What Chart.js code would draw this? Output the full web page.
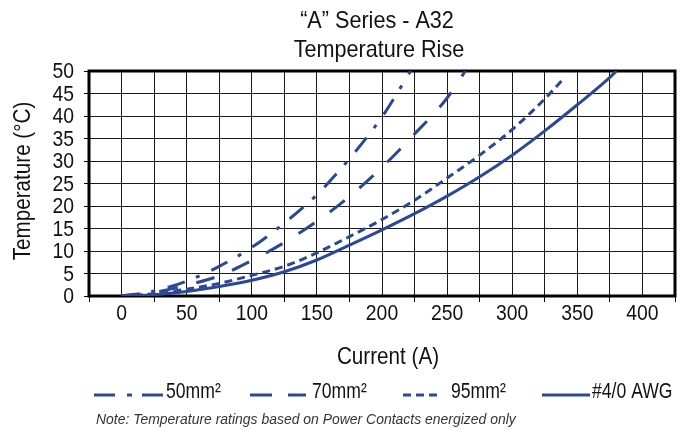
<!DOCTYPE html>
<html>
<head>
<meta charset="utf-8">
<script src="https://cdn.jsdelivr.net/npm/chart.js@4.4.1/dist/chart.umd.min.js"></script>
<style>
  html, body { margin: 0; padding: 0; background: #fff; }
  #wrap { width: 689px; height: 434px; }
</style>
</head>
<body>
<div id="wrap"><canvas id="riseChart" width="689" height="434"></canvas></div>
<script>
// values (current in A, temperature rise in °C)
var current50 = [0, 25, 50, 75, 100, 125, 150, 175, 200, 222];
var temp50    = [0, 1.1, 3.3, 6.6, 10.8, 16.2, 22.5, 30.5, 39.8, 50];

var current70 = [0, 25, 50, 75, 100, 125, 150, 175, 200, 225, 250, 264];
var temp70    = [0, 0.8, 2.4, 4.5, 7.9, 11.9, 16.6, 22.1, 28.6, 36.0, 44.0, 50];

var current95 = [0, 25, 50, 75, 100, 125, 150, 175, 200, 225, 250, 275, 300, 325, 340];
var temp95    = [0, 0.5, 1.5, 2.8, 4.6, 6.6, 9.6, 13.2, 17.0, 21.3, 26.2, 31.3, 37.0, 43.8, 48.5];

var currentAwg = [0, 25, 50, 75, 100, 125, 150, 175, 200, 225, 250, 275, 300, 325, 350, 375, 380];
var tempAwg    = [0, 0.3, 1.0, 2.1, 3.5, 5.4, 8.0, 11.3, 14.7, 18.3, 22.2, 26.5, 31.3, 36.7, 42.5, 48.6, 50];

var seriesNames = ['50mm\u00b2', '70mm\u00b2', '95mm\u00b2', '#4/0 AWG'];
var titleLines = ['\u201cA\u201d Series - A32', 'Temperature Rise'];
var xTitle = 'Current (A)';
var yTitle = 'Temperature (\u00b0C)';
var noteText = 'Note: Temperature ratings based on Power Contacts energized only';

var FONT = "'Liberation Sans', Arial, sans-serif";
var BLUE = '#2b4898';

function pairs(xs, ys){
    return xs.map(function(x, i){ return {x: x, y: ys[i]}; });
}

function lineSet(label, xs, ys, dash){
    return {
        label: label,
        data: pairs(xs, ys),
        borderColor: BLUE,
        borderWidth: 3,
        borderDash: dash,
        pointRadius: 0,
        fill: false,
        cubicInterpolationMode: 'monotone'
    };
}

// narrow text: Liberation Sans squeezed sideways
function narrowText(ctx, text, x, y, size, align, style, squeeze){
    ctx.save();
    ctx.translate(x, y);
    ctx.scale(squeeze || 0.86, 1);
    ctx.font = (style ? style + ' ' : '') + size + 'px ' + FONT;
    ctx.textAlign = align;
    ctx.textBaseline = 'middle';
    ctx.fillText(text, 0, 0);
    ctx.restore();
}

// thick frame around the plot
var framePlugin = {
    id: 'frame',
    beforeDatasetsDraw: function(chart){
        var a = chart.chartArea, ctx = chart.ctx;
        ctx.save();
        ctx.strokeStyle = '#000';
        ctx.lineWidth = 3;
        ctx.strokeRect(a.left, a.top, a.right - a.left, a.bottom - a.top);
        ctx.restore();
    }
};

// tick labels, titles, legend and note
var textPlugin = {
    id: 'texts',
    afterDraw: function(chart){
        var ctx = chart.ctx;
        var xs = chart.scales.x, ys = chart.scales.y;
        ctx.save();
        ctx.fillStyle = '#111';

        xs.ticks.forEach(function(t){
            if (t.value % 50 === 0) {
                narrowText(ctx, String(t.value), xs.getPixelForValue(t.value), 314, 22, 'center', '', 0.88);
            }
        });
        ys.ticks.forEach(function(t){
            narrowText(ctx, String(t.value), 74, ys.getPixelForValue(t.value) + 1, 22, 'right', '', 0.88);
        });

        narrowText(ctx, titleLines[0], 377, 21, 24, 'center', '', 0.9);
        narrowText(ctx, titleLines[1], 379, 50, 24, 'center', '', 0.9);
        narrowText(ctx, xTitle, 388, 357, 24, 'center', '', 0.86);

        ctx.save();
        ctx.translate(23, 181);
        ctx.rotate(-Math.PI / 2);
        narrowText(ctx, yTitle, 0, 0, 24, 'center', '', 0.86);
        ctx.restore();

        // legend
        var items = [
            {x0: 94,  x1: 163, tx: 166, dash: [21, 12, 5, 10]},
            {x0: 250, x1: 306, tx: 312, dash: [22, 16]},
            {x0: 403, x1: 438, tx: 451, dash: [8, 5]},
            {x0: 542, x1: 590, tx: 592, dash: []}
        ];
        chart.data.datasets.forEach(function(ds, i){
            var it = items[i];
            ctx.save();
            ctx.strokeStyle = ds.borderColor;
            ctx.lineWidth = 3;
            ctx.setLineDash(it.dash);
            ctx.beginPath();
            ctx.moveTo(it.x0, 395);
            ctx.lineTo(it.x1, 395);
            ctx.stroke();
            ctx.restore();
            narrowText(ctx, ds.label, it.tx, 392, 22, 'left', '', 0.8);
        });

        ctx.fillStyle = '#333';
        narrowText(ctx, noteText, 96, 420, 15, 'left', 'italic', 0.93);
        ctx.restore();
    }
};

var ctx1 = document.getElementById('riseChart').getContext('2d');
var riseChart = new Chart(ctx1, {
    type: 'line',
    data: {
        datasets: [
            lineSet(seriesNames[0], current50, temp50, [18, 12, 4, 13]),
            lineSet(seriesNames[1], current70, temp70, [19, 19]),
            lineSet(seriesNames[2], current95, temp95, [8, 5]),
            lineSet(seriesNames[3], currentAwg, tempAwg, [])
        ]
    },
    options: {
        responsive: false,
        animation: false,
        layout: { padding: { top: 71, right: 14, left: 0, bottom: 0 } },
        plugins: {
            legend: { display: false },
            title: { display: false },
            tooltip: { enabled: false }
        },
        scales: {
            x: {
                type: 'linear',
                min: -25,
                max: 425,
                afterBuildTicks: function(s){
                    var t = [];
                    for (var v = -25; v <= 425; v += 25) t.push({value: v});
                    s.ticks = t;
                },
                afterFit: function(s){ s.height = 138; },
                ticks: { display: false, autoSkip: false },
                grid: {
                    color: '#1a1a1a',
                    lineWidth: 1,
                    tickLength: 6,
                    tickColor: function(c){
                        return (c.tick && c.tick.value % 50 !== 0) ? '#000' : 'rgba(0,0,0,0)';
                    }
                },
                border: { display: false }
            },
            y: {
                min: 0,
                max: 50,
                afterFit: function(s){ s.width = 89; },
                ticks: { display: false, stepSize: 5 },
                grid: {
                    color: '#1a1a1a',
                    lineWidth: 1,
                    tickLength: 5,
                    tickColor: '#000'
                },
                border: { display: false }
            }
        }
    },
    plugins: [framePlugin, textPlugin]
});
</script>
</body>
</html>
